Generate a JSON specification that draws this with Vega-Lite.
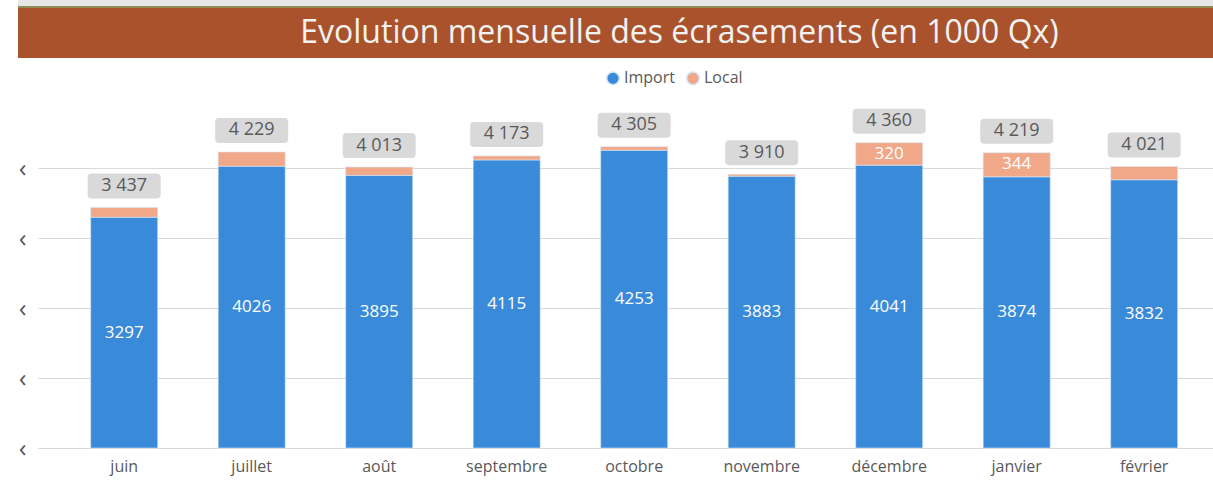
{
  "$schema": "https://vega.github.io/schema/vega-lite/v6.json",
  "padding": {"left": 18, "top": 0, "right": 0, "bottom": 6},
  "background": "white",
  "config": {
    "font": "Open Sans",
    "locale": {"number": {"decimal": ",", "thousands": " ", "grouping": [3], "currency": ["", " €"]}},
    "concat": {"spacing": 12}
  },
  "resolve": {"legend": {"color": "independent"}},
  "vconcat": [
    {
      "spacing": 0,
      "vconcat": [
        {
          "width": 1195,
          "height": 6,
          "view": {"fill": "#E6E6E6", "stroke": null},
          "data": {"values": [{}]},
          "mark": {"type": "rect", "color": "#E6E6E6"},
          "encoding": {}
        },
        {
          "width": 1195,
          "height": 2,
          "view": {"fill": "#8E8B55", "stroke": null},
          "data": {"values": [{}]},
          "mark": {"type": "rect", "color": "#8E8B55"},
          "encoding": {}
        },
        {
          "width": 1195,
          "height": 50,
          "view": {"fill": "#A9522B", "stroke": null},
          "data": {"values": [{"titre": "Evolution mensuelle des écrasements (en 1000 Qx)"}]},
          "mark": {"type": "text", "color": "#F2F2F2", "fontSize": 32, "dx": 64, "baseline": "middle", "align": "center"},
          "encoding": {"text": {"field": "titre", "type": "nominal"}}
        }
      ]
    },
    {
      "width": 1195,
      "height": 350,
      "view": {"stroke": null},
      "data": {"values": [
        {"mois": "juin", "Import": 3297, "Local": 140, "total": 3437},
        {"mois": "juillet", "Import": 4026, "Local": 203, "total": 4229},
        {"mois": "août", "Import": 3895, "Local": 118, "total": 4013},
        {"mois": "septembre", "Import": 4115, "Local": 58, "total": 4173},
        {"mois": "octobre", "Import": 4253, "Local": 52, "total": 4305},
        {"mois": "novembre", "Import": 3883, "Local": 27, "total": 3910},
        {"mois": "décembre", "Import": 4041, "Local": 320, "total": 4360},
        {"mois": "janvier", "Import": 3874, "Local": 344, "total": 4219},
        {"mois": "février", "Import": 3832, "Local": 189, "total": 4021}
      ]},
      "encoding": {
        "x": {
          "field": "mois", "type": "nominal", "sort": null,
          "scale": {"paddingInner": 0.4745, "paddingOuter": 0.4235, "align": 0.673},
          "axis": {"title": null, "labelAngle": 0, "ticks": false, "domainColor": "#D9D9D9", "domainDash": [0, 20, 1300], "labelColor": "#595959", "labelFontSize": 16, "labelPadding": 10}
        }
      },
      "layer": [
        {
          "transform": [{"fold": ["Import", "Local"], "as": ["type", "value"]}],
          "mark": {"type": "bar", "stroke": "#D6E6F7", "strokeWidth": 0.6},
          "encoding": {
            "y": {
              "field": "value", "type": "quantitative", "stack": "zero",
              "scale": {"domain": [0, 5000], "nice": false},
              "axis": {"title": null, "values": [0, 1000, 2000, 3000, 4000], "labelExpr": "'‹'", "domain": false, "ticks": false, "gridColor": "#D9D9D9", "gridDash": [0, 20, 1300], "labelColor": "#595959", "labelFontSize": 26, "labelPadding": -8, "labelBaseline": "middle"}
            },
            "color": {
              "field": "type", "type": "nominal",
              "scale": {"domain": ["Import", "Local"], "range": ["#398BDA", "#F0A889"]},
              "legend": {"title": null, "orient": "none", "legendX": 587, "legendY": -28, "direction": "horizontal", "symbolType": "circle", "symbolSize": 160, "labelFontSize": 16, "labelColor": "#595959", "columnPadding": 8, "symbolOffset": 0, "labelOffset": 3, "padding": 0}
            },
            "order": {"field": "type", "type": "nominal", "sort": "ascending"}
          }
        },
        {
          "mark": {"type": "text", "color": "white", "fontSize": 17, "baseline": "middle"},
          "encoding": {
            "y": {"field": "Import", "type": "quantitative", "scale": {"domain": [0, 10000], "nice": false}, "axis": null},
            "text": {"field": "Import", "type": "quantitative", "format": "d"}
          }
        },
        {
          "transform": [{"filter": "datum.Local > 300"}],
          "mark": {"type": "text", "color": "white", "fontSize": 17, "baseline": "middle", "dy": 11.5},
          "encoding": {
            "y": {"field": "total", "type": "quantitative", "scale": {"domain": [0, 5000], "nice": false}, "axis": null},
            "text": {"field": "Local", "type": "quantitative", "format": "d"}
          }
        },
        {
          "mark": {"type": "point", "filled": true, "opacity": 1, "color": "#D9D9D9", "strokeWidth": 0, "size": 5329, "yOffset": -21.5,
            "shape": "M-0.89,-0.3425L0.89,-0.3425Q1,-0.3425 1,-0.2325L1,0.2325Q1,0.3425 0.89,0.3425L-0.89,0.3425Q-1,0.3425 -1,0.2325L-1,-0.2325Q-1,-0.3425 -0.89,-0.3425Z"},
          "encoding": {
            "y": {"field": "total", "type": "quantitative", "scale": {"domain": [0, 5000], "nice": false}, "axis": null}
          }
        },
        {
          "mark": {"type": "text", "color": "#595959", "fontSize": 18, "baseline": "middle", "yOffset": -21.5},
          "encoding": {
            "y": {"field": "total", "type": "quantitative", "scale": {"domain": [0, 5000], "nice": false}, "axis": null},
            "text": {"field": "total", "type": "quantitative", "format": ",d"}
          }
        }
      ],
      "resolve": {"scale": {"y": "independent"}}
    }
  ]
}
